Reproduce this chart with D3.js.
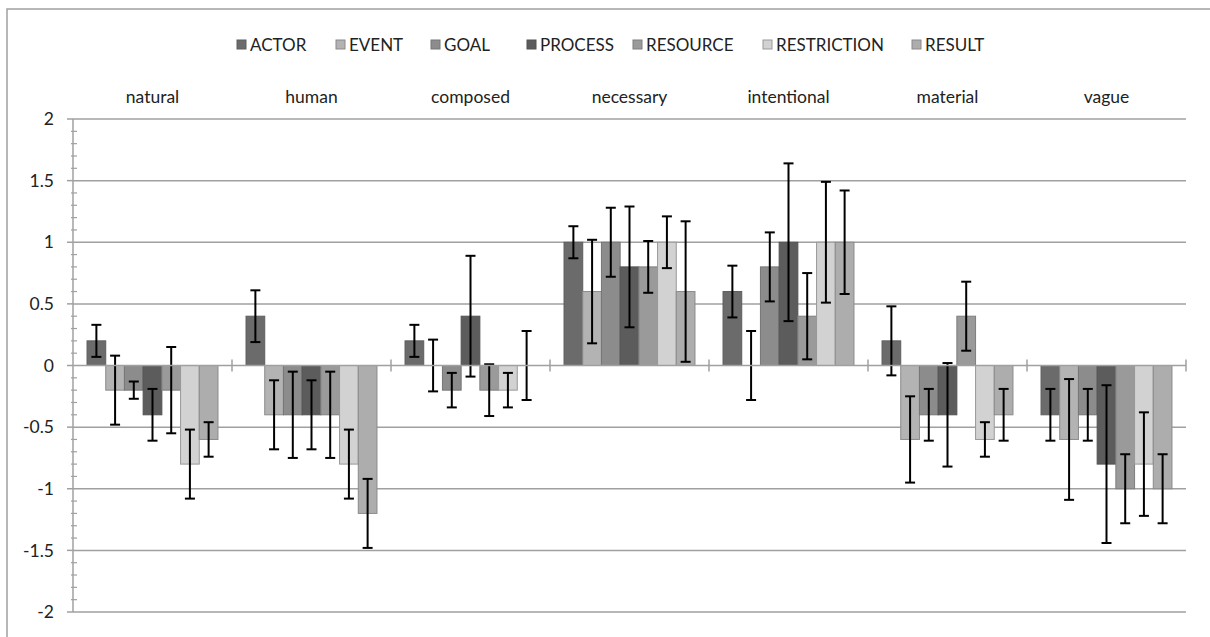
<!DOCTYPE html>
<html>
<head>
<meta charset="utf-8">
<script src="https://cdn.jsdelivr.net/npm/d3@7"></script>
<style>
  body { margin: 0; background: #fff; }
  svg text { font-family: Lato, "Open Sans", sans-serif; fill: #222; }
</style>
</head>
<body>
<div id="chart"></div>
<script>
// categories along the x axis
const categories = ["natural", "human", "composed", "necessary", "intentional", "material", "vague"];

// series names and fills
const series = ["ACTOR", "EVENT", "GOAL", "PROCESS", "RESOURCE", "RESTRICTION", "RESULT"];
const seriesFill = ["#6b6b6b", "#b3b3b3", "#8c8c8c", "#5c5c5c", "#9a9a9a", "#d2d2d2", "#adadad"];
const seriesStroke = ["#5e5e5e", "#8a8a8a", "#767676", "#525252", "#7e7e7e", "#999999", "#8a8a8a"];

// mean value per series, one entry per category
const means = {
  ACTOR:       [0.2, 0.4, 0.2, 1.0, 0.6, 0.2, -0.4],
  EVENT:       [-0.2, -0.4, 0, 0.6, 0, -0.6, -0.6],
  GOAL:        [-0.2, -0.4, -0.2, 1.0, 0.8, -0.4, -0.4],
  PROCESS:     [-0.4, -0.4, 0.4, 0.8, 1.0, -0.4, -0.8],
  RESOURCE:    [-0.2, -0.4, -0.2, 0.8, 0.4, 0.4, -1.0],
  RESTRICTION: [-0.8, -0.8, -0.2, 1.0, 1.0, -0.6, -0.8],
  RESULT:      [-0.6, -1.2, 0, 0.6, 1.0, -0.4, -1.0]
};

// error bar half-width per series, one entry per category
const errors = {
  ACTOR:       [0.13, 0.21, 0.13, 0.13, 0.21, 0.28, 0.21],
  EVENT:       [0.28, 0.28, 0.21, 0.42, 0.28, 0.35, 0.49],
  GOAL:        [0.07, 0.35, 0.14, 0.28, 0.28, 0.21, 0.21],
  PROCESS:     [0.21, 0.28, 0.49, 0.49, 0.64, 0.42, 0.64],
  RESOURCE:    [0.35, 0.35, 0.21, 0.21, 0.35, 0.28, 0.28],
  RESTRICTION: [0.28, 0.28, 0.14, 0.21, 0.49, 0.14, 0.42],
  RESULT:      [0.14, 0.28, 0.28, 0.57, 0.42, 0.21, 0.28]
};

const yTicks = [-2, -1.5, -1, -0.5, 0, 0.5, 1, 1.5, 2];

const width = 1210, height = 637;
const plot = { left: 73, right: 1186, top: 119, bottom: 612 };

const svg = d3.select("#chart").append("svg").attr("width", width).attr("height", height);

// outer frame (only top and left edges fall inside the picture)
svg.append("rect")
  .attr("x", 7).attr("y", 9)
  .attr("width", 1220).attr("height", 650)
  .attr("fill", "none").attr("stroke", "#a0a0a0").attr("stroke-width", 1.5);

const x = d3.scaleBand().domain(categories).range([plot.left, plot.right]).paddingInner(0).paddingOuter(0);
const barW = x.bandwidth() / (series.length + 1.5);
const xs = d3.scaleBand().domain(series).range([barW * 0.75, barW * 0.75 + barW * series.length]);
const y = d3.scaleLinear().domain([-2, 2]).range([plot.bottom, plot.top]);

// horizontal gridlines
svg.append("g").selectAll("line").data(yTicks.filter((d) => d !== 0)).join("line")
  .attr("x1", plot.left).attr("x2", plot.right)
  .attr("y1", (d) => y(d)).attr("y2", (d) => y(d))
  .attr("stroke", "#a0a0a0").attr("stroke-width", 1.5);

// y axis: minor ticks every 0.1 and major ticks every 0.5
const yAxisG = svg.append("g");
const minor = d3.range(-20, 21).map((i) => i / 10).filter((v) => Math.abs(v * 2 - Math.round(v * 2)) > 1e-6);
yAxisG.selectAll("line.minor").data(minor).join("line")
  .attr("class", "minor")
  .attr("x1", plot.left - 2).attr("x2", plot.left + 4)
  .attr("y1", (d) => y(d)).attr("y2", (d) => y(d))
  .attr("stroke", "#a0a0a0").attr("stroke-width", 1.2);
yAxisG.selectAll("line.major").data(yTicks).join("line")
  .attr("class", "major")
  .attr("x1", plot.left - 6).attr("x2", plot.left)
  .attr("y1", (d) => y(d)).attr("y2", (d) => y(d))
  .attr("stroke", "#a0a0a0").attr("stroke-width", 1.5);
yAxisG.append("line")
  .attr("x1", plot.left).attr("x2", plot.left)
  .attr("y1", plot.top).attr("y2", plot.bottom)
  .attr("stroke", "#a0a0a0").attr("stroke-width", 1.5);
yAxisG.selectAll("text").data(yTicks).join("text")
  .attr("x", plot.left - 19).attr("y", (d) => y(d))
  .attr("dy", "0.35em").attr("text-anchor", "end")
  .attr("font-size", 17.5)
  .text((d) => d3.format("")(d).replace("−", "-"));

// bars
const groups = svg.append("g").selectAll("g").data(categories).join("g")
  .attr("transform", (c) => `translate(${x(c)},0)`);

groups.each(function (c, ci) {
  const g = d3.select(this);
  const rows = series.map((s, si) => ({ s, si, v: means[s][ci], e: errors[s][ci] }));
  g.selectAll("rect").data(rows.filter((d) => d.v !== 0)).join("rect")
    .attr("x", (d) => xs(d.s))
    .attr("y", (d) => y(Math.max(0, d.v)))
    .attr("width", xs.bandwidth())
    .attr("height", (d) => Math.abs(y(d.v) - y(0)))
    .attr("fill", (d) => seriesFill[d.si])
    .attr("stroke", (d) => seriesStroke[d.si])
    .attr("stroke-width", 1);
});

// zero line with category tick marks
const zeroG = svg.append("g");
zeroG.append("line")
  .attr("x1", plot.left).attr("x2", plot.right)
  .attr("y1", y(0)).attr("y2", y(0))
  .attr("stroke", "#a0a0a0").attr("stroke-width", 1.5);
zeroG.selectAll("line.tick").data(categories.slice(1).concat(["end"])).join("line")
  .attr("class", "tick")
  .attr("x1", (c, i) => plot.left + (i + 1) * x.bandwidth())
  .attr("x2", (c, i) => plot.left + (i + 1) * x.bandwidth())
  .attr("y1", y(0) - 6).attr("y2", y(0) + 6)
  .attr("stroke", "#a0a0a0").attr("stroke-width", 1.5);

// error bars
groups.each(function (c, ci) {
  const g = d3.select(this);
  const rows = series.map((s) => ({ s, v: means[s][ci], e: errors[s][ci] }));
  const eb = g.append("g").selectAll("g").data(rows).join("g")
    .attr("transform", (d) => `translate(${xs(d.s) + xs.bandwidth() / 2},0)`)
    .attr("stroke", "#000").attr("stroke-width", 2);
  eb.append("line").attr("x1", 0).attr("x2", 0)
    .attr("y1", (d) => y(d.v + d.e)).attr("y2", (d) => y(d.v - d.e));
  eb.append("line").attr("x1", -5).attr("x2", 5)
    .attr("y1", (d) => y(d.v + d.e)).attr("y2", (d) => y(d.v + d.e));
  eb.append("line").attr("x1", -5).attr("x2", 5)
    .attr("y1", (d) => y(d.v - d.e)).attr("y2", (d) => y(d.v - d.e));
});

// category labels above the plot
svg.append("g").selectAll("text").data(categories).join("text")
  .attr("x", (c) => x(c) + x.bandwidth() / 2)
  .attr("y", 97)
  .attr("dy", "0.35em")
  .attr("text-anchor", "middle")
  .attr("font-size", 17.5)
  .text((c) => c);

// legend
const legendX = [237, 336, 431, 527, 633, 763, 912];
const legend = svg.append("g").selectAll("g").data(series).join("g")
  .attr("transform", (s, i) => `translate(${legendX[i]},45)`);
legend.append("rect")
  .attr("x", 0).attr("y", -5).attr("width", 9).attr("height", 9)
  .attr("fill", (s, i) => seriesFill[i])
  .attr("stroke", (s, i) => seriesStroke[i]).attr("stroke-width", 1);
legend.append("text")
  .attr("x", 13).attr("y", 0).attr("dy", "0.35em")
  .attr("font-size", 17)
  .text((s) => s);
</script>
</body>
</html>
